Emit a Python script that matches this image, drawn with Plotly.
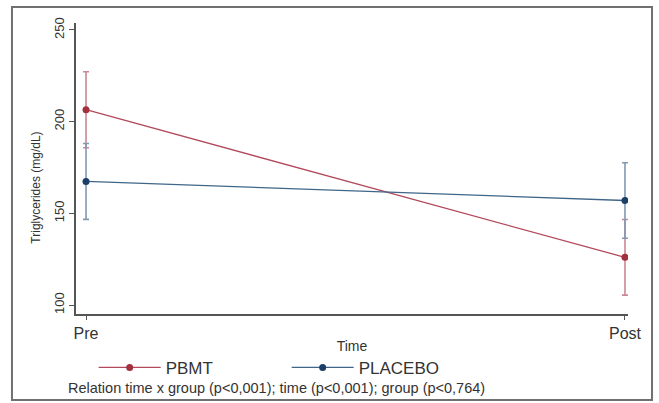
import plotly.graph_objects as go

time_labels = ["Pre", "Post"]
time_pos = [0, 1]
groups = ["PBMT", "PLACEBO"]
pbmt_mean = [206.5, 126.0]
pbmt_ci = [20.7, 20.6]
placebo_mean = [167.4, 157.0]
placebo_ci = [20.7, 20.6]
y_ticks = [100, 150, 200, 250]

line_colors = ["#b24a5c", "#3f6688"]
marker_colors = ["#a3303f", "#1b3f66"]
err_colors = ["#c98893", "#8299b0"]

fig = go.Figure()
for name, mean, ci, lc, mc, ec in zip(groups, [pbmt_mean, placebo_mean], [pbmt_ci, placebo_ci],
                                      line_colors, marker_colors, err_colors):
    fig.add_trace(go.Scatter(
        x=time_pos, y=mean, name=name, mode="lines+markers",
        line=dict(color=lc, width=1.3),
        marker=dict(color=mc, size=7),
        error_y=dict(type="data", array=ci, symmetric=True, color=ec, thickness=1.6, width=3),
    ))

fig.update_layout(
    width=659, height=403,
    margin=dict(l=76, r=31, t=23, b=89),
    paper_bgcolor="white", plot_bgcolor="white",
    font=dict(family="Liberation Sans, Arial, sans-serif", color="#333333"),
    showlegend=True,
    legend=dict(orientation="h", x=0.032, xanchor="left", y=-0.185, yanchor="middle",
                font=dict(size=17, color="#333333"), itemwidth=62, entrywidth=116,
                bgcolor="rgba(0,0,0,0)"),
    xaxis=dict(range=[-0.0186, 1.0056], tickvals=time_pos, ticktext=time_labels,
               showline=True, linecolor="#555555", linewidth=1.5, ticks="outside",
               ticklen=4, tickcolor="#555555", showgrid=False, zeroline=False,
               tickfont=dict(size=16, color="#333333"),
               title=dict(text="Time", font=dict(size=14, color="#333333"), standoff=0)),
    yaxis=dict(range=[95.1, 253.8], tickvals=y_ticks, showline=True, linecolor="#555555",
               linewidth=1.5, ticks="outside", ticklen=5, tickcolor="#555555",
               showgrid=False, zeroline=False, tickangle=-90,
               tickfont=dict(size=13, color="#333333")),
)

fig.add_annotation(text="Relation time x group (p<0,001); time (p<0,001); group (p<0,764)",
                   xref="paper", yref="paper", x=-0.018, y=-0.255, xanchor="left",
                   yanchor="middle", showarrow=False, font=dict(size=14.5, color="#333333"))
fig.add_annotation(text="Triglycerides (mg/dL)", xref="paper", yref="paper",
                   x=-0.072, y=0.435, xanchor="center", yanchor="middle", textangle=-90,
                   showarrow=False, font=dict(size=12, color="#333333"))
fig.add_shape(type="rect", xref="paper", yref="paper", x0=-0.116, x1=1.0435,
              y0=-0.2955, y1=1.055, line=dict(color="#707070", width=2), layer="below")

fig.write_html("out.html")
